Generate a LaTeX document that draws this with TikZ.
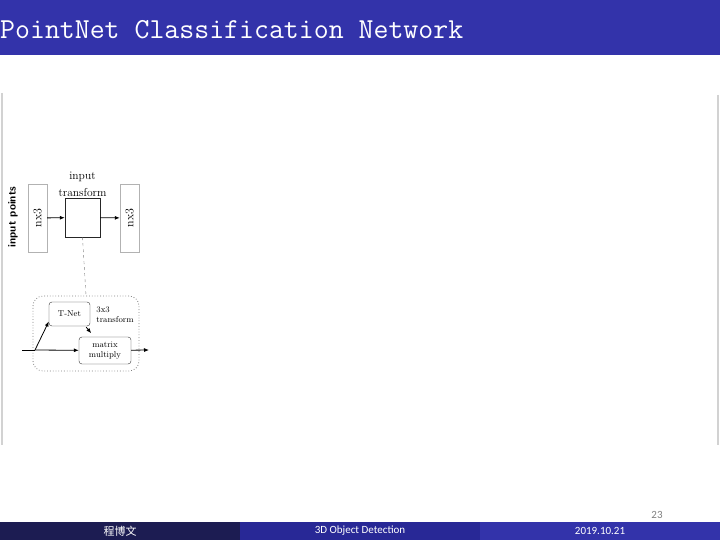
\documentclass[tikz,border=0pt]{standalone}
\usepackage{fontspec}
\newfontfamily\cjk{Noto Sans CJK SC}
\newfontfamily\footfont{Carlito}
\usetikzlibrary{positioning,arrows.meta}
\definecolor{titleblue}{RGB}{51,51,170}
\definecolor{footdark}{RGB}{28,28,82}
\definecolor{footmid}{RGB}{40,40,150}
\tikzset{
  databox/.style={draw=gray!60, rotate=90, minimum width=68pt, minimum height=19pt, inner sep=0pt,
    font=\fontsize{12}{13}\selectfont},
  netbox/.style={draw=black!80, rounded corners=3pt, inner sep=0pt, align=center,
    font=\fontsize{8.5}{10}\selectfont},
  flow/.style={-{Latex[length=5pt,width=4pt]}, thick},
  foottext/.style={text=white, font=\footfont\fontsize{11}{12}\selectfont}
}
\begin{document}
\begin{tikzpicture}[x=1pt,y=-1pt]
\useasboundingbox (0,0) rectangle (720,540);
% title bar
\fill[titleblue] (0,0) rectangle (720,55);
\node[anchor=west, text=white, inner sep=0pt, font=\ttfamily\fontsize{29}{30}\selectfont] (title) at (0,30) {PointNet Classification Network};
% picture frame
\draw[gray!35, line width=2pt] (2,93) -- (2,445);
\draw[gray!35, line width=2pt] (718,95) -- (718,445);
% input transform
\node[rotate=90, font=\sffamily\bfseries\fontsize{11}{12}\selectfont] (pts) at (13,217) {input points};
\node[databox] (ptsin) at (37.5,218) {nx3};
\node[draw=black!85, minimum width=35pt, minimum height=39pt, inner sep=0pt] (tbox) at (82.5,217.5) {};
\node[databox] (ptsout) at (129.5,218) {nx3};
\node[above=1pt of tbox, align=center, inner sep=0pt, font=\fontsize{11.5}{17}\selectfont] (tlabel) {input\\transform};
\draw[flow] (ptsin) -- (tbox);
\draw[flow] (tbox) -- (ptsout);
% T-Net detail
\node[draw=gray, dotted, thick, rounded corners=10pt, minimum width=106pt, minimum height=75pt] (tgroup) at (86,333.5) {};
\draw[dashed, gray] (tbox.south) -- (tgroup.north);
\node[netbox, minimum width=41pt, minimum height=24pt] (tnet) at (69.5,314) {T-Net};
\node[netbox, minimum width=52pt, minimum height=27pt] (mmul) at (105,350.5) {matrix\\multiply};
\node[align=left, inner sep=0pt, font=\fontsize{8.5}{10}\selectfont] (tlab) at (115,315) {3x3\\transform};
\coordinate (in) at (22,350);
\coordinate (branch) at (35,350);
\coordinate (out) at (149,350);
\draw[thick] (in) -- (branch);
\draw[flow] (branch) -- (mmul);
\draw[flow] (branch) -- (tnet.200);
\draw[flow] (tnet.south east) ++(-4,1) -- ++(5,6);
\draw[flow] (mmul) -- (out);
% footer
\node[text=gray, font=\footfont\fontsize{11}{12}\selectfont] (page) at (657,515) {23};
\fill[footdark] (0,522) rectangle (240,540);
\fill[footmid] (240,522) rectangle (480,540);
\fill[titleblue] (480,522) rectangle (720,540);
\node[foottext] (author) at (120,531) {\cjk 程博文};
\node[foottext] (topic) at (360,531) {3D Object Detection};
\node[foottext] (date) at (600,531) {2019.10.21};
\end{tikzpicture}
\end{document}
